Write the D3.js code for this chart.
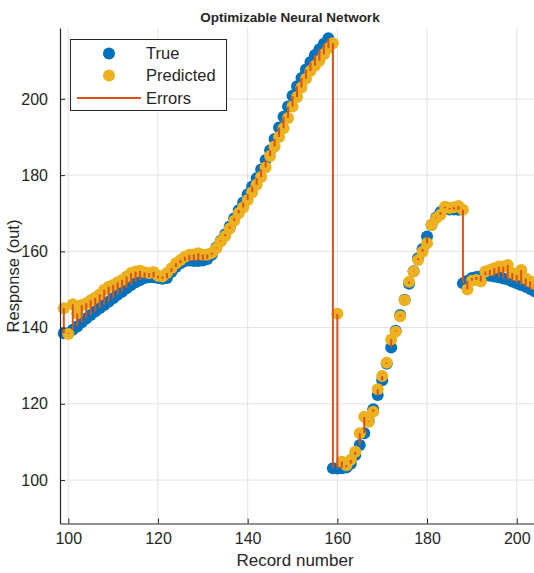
<!DOCTYPE html>
<html>
<head>
<meta charset="utf-8">
<script src="https://cdn.jsdelivr.net/npm/d3@7"></script>
<style>
  body { margin: 0; background: #fff; }
  text { font-family: "Liberation Sans", Arial, sans-serif; fill: #262626; }
</style>
</head>
<body>
<div id="chart"></div>
<script>
// record numbers on the x axis
var records = [99, 100, 101, 102, 103, 104, 105, 106, 107, 108, 109, 110, 111, 112, 113, 114, 115, 116, 117, 118, 119,
  120, 121, 122, 123, 124, 125, 126, 127, 128, 129, 130, 131, 132, 133, 134, 135, 136, 137, 138, 139,
  140, 141, 142, 143, 144, 145, 146, 147, 148, 149, 150, 151, 152, 153, 154, 155, 156, 157, 158, 159,
  160, 161, 162, 163, 164, 165, 166, 167, 168, 169, 170, 171, 172, 173, 174, 175, 176, 177, 178, 179,
  180, 181, 182, 183, 184, 185, 186, 187, 188, 189, 190, 191, 192, 193, 194, 195, 196, 197, 198, 199,
  200, 201, 202, 203, 204];

var trueVals = [138.5, 138.5, 139.4, 140.3, 141.4, 142.4, 143.3, 144.2, 145.1, 145.9, 146.8, 147.7, 148.6, 149.4, 150.3, 151.2, 151.9, 152.5, 153.0, 153.2, 153.2,
  153.0, 152.8, 153.0, 154.6, 155.9, 156.9, 157.5, 157.6, 157.5, 157.5, 157.6, 158.0, 159.1, 161.0, 162.8, 164.5, 166.5, 168.7, 170.8, 172.8,
  175.0, 177.0, 179.2, 181.5, 184.0, 186.5, 189.5, 192.5, 195.3, 198.0, 200.8, 203.3, 205.5, 207.7, 209.7, 211.5, 213.0, 214.5, 215.9, 103.1,
  103.0, 103.1, 103.3, 104.3, 106.6, 109.2, 112.3, 115.5, 118.6, 122.3, 126.2, 130.5, 134.8, 139.2, 143.3, 147.3, 151.5, 154.8, 158.2, 160.6,
  163.9, 166.9, 168.9, 170.3, 171.3, 171.0, 171.0, 170.9, 151.6, 152.3, 153.0, 153.3, 153.5, 153.7, 153.6, 153.4, 153.2, 152.9, 152.6, 152.1,
  151.6, 151.2, 150.7, 150.1, 149.5];

var predVals = [145.1, 138.3, 146.1, 143.7, 145.9, 146.4, 147.2, 147.8, 148.7, 149.9, 150.7, 151.2, 151.9, 152.5, 153.4, 154.3, 154.7, 154.9, 154.5, 154.3, 154.6,
  153.6, 153.4, 154.3, 155.6, 156.9, 157.7, 158.6, 159.1, 159.2, 159.5, 159.1, 159.2, 159.6, 160.8, 162.6, 164.0, 166.0, 168.0, 170.0, 171.5,
  173.5, 175.5, 177.5, 179.5, 182.0, 185.0, 187.5, 190.0, 192.3, 195.0, 198.0, 200.5, 203.0, 205.3, 207.3, 208.7, 210.0, 211.7, 213.3, 214.6,
  143.6, 104.8, 103.9, 105.3, 107.4, 112.3, 116.6, 115.3, 117.9, 123.8, 127.3, 130.8, 136.9, 138.9, 143.0, 147.2, 152.0, 154.7, 157.7, 159.9,
  162.1, 166.9, 168.7, 169.6, 171.7, 171.4, 171.6, 171.9, 170.9, 150.0, 152.3, 152.5, 152.1, 154.7, 155.1, 155.6, 156.0, 156.0, 156.4, 154.3,
  153.8, 155.1, 152.9, 152.1, 151.5];

var xTicks = [100, 120, 140, 160, 180, 200];
var yTicks = [100, 120, 140, 160, 180, 200];
var legendItems = ["True", "Predicted", "Errors"];

var width = 534, height = 573;
var blue = "#0072BD", yellow = "#EDB120", red = "#D95319";

var svg = d3.select("#chart").append("svg")
    .attr("width", width)
    .attr("height", height);

var x = d3.scaleLinear().domain([98.15, 203.85]).range([60, 534]);
var y = d3.scaleLinear().domain([88.6, 218.6]).range([523.5, 28]);

var data = records.map(function (r, i) {
  return { rec: r, t: trueVals[i], p: predVals[i] };
});

// grid
svg.append("g").selectAll("line").data(xTicks).enter().append("line")
    .attr("x1", function (d) { return x(d); }).attr("x2", function (d) { return x(d); })
    .attr("y1", y.range()[0]).attr("y2", y.range()[1])
    .attr("stroke", "#e3e3e3").attr("stroke-width", 1);
svg.append("g").selectAll("line").data(yTicks).enter().append("line")
    .attr("x1", 60).attr("x2", width)
    .attr("y1", function (d) { return y(d); }).attr("y2", function (d) { return y(d); })
    .attr("stroke", "#e3e3e3").attr("stroke-width", 1);

// true values
svg.append("g").selectAll("circle").data(data).enter().append("circle")
    .attr("cx", function (d) { return x(d.rec); })
    .attr("cy", function (d) { return y(d.t); })
    .attr("r", 6)
    .attr("fill", blue);

// predicted values
svg.append("g").selectAll("circle").data(data).enter().append("circle")
    .attr("cx", function (d) { return x(d.rec); })
    .attr("cy", function (d) { return y(d.p); })
    .attr("r", 6)
    .attr("fill", yellow);

// errors
svg.append("g").selectAll("line").data(data).enter().append("line")
    .attr("x1", function (d) { return x(d.rec); })
    .attr("x2", function (d) { return x(d.rec); })
    .attr("y1", function (d) { return y(d.t); })
    .attr("y2", function (d) { return y(d.p); })
    .attr("stroke", red)
    .attr("stroke-width", 2);

// axes
var xAxis = svg.append("g")
    .attr("transform", "translate(0," + y.range()[0] + ")")
    .call(d3.axisBottom(x).tickValues(xTicks).tickSizeInner(-5).tickSizeOuter(0).tickPadding(9));
var yAxis = svg.append("g")
    .attr("transform", "translate(60,0)")
    .call(d3.axisLeft(y).tickValues(yTicks).tickSizeInner(-5).tickSizeOuter(0).tickPadding(12));

[xAxis, yAxis].forEach(function (g) {
  g.select(".domain").attr("stroke", "#262626").attr("stroke-width", 1.2);
  g.selectAll(".tick line").attr("stroke", "#262626");
  g.selectAll(".tick text").attr("font-size", "16px").attr("font-family", "Liberation Sans, Arial, sans-serif").attr("fill", "#262626");
});

svg.append("text")
    .attr("x", 295).attr("y", 566)
    .attr("text-anchor", "middle")
    .attr("font-size", "17px")
    .text("Record number");

svg.append("text")
    .attr("transform", "translate(19,276) rotate(-90)")
    .attr("text-anchor", "middle")
    .attr("font-size", "16.5px")
    .text("Response (out)");

svg.append("text")
    .attr("x", 290).attr("y", 22)
    .attr("text-anchor", "middle")
    .attr("font-size", "13.5px")
    .attr("font-weight", "bold")
    .attr("fill", "#000")
    .text("Optimizable Neural Network");

// legend
var legend = svg.append("g");
legend.append("rect")
    .attr("x", 70.5).attr("y", 39.5)
    .attr("width", 156).attr("height", 71)
    .attr("fill", "#fff")
    .attr("stroke", "#262626")
    .attr("stroke-width", 1);

var rowY = [53.5, 75.5, 98];
legendItems.forEach(function (name, i) {
  if (i < 2) {
    legend.append("circle")
        .attr("cx", 109).attr("cy", rowY[i])
        .attr("r", 6)
        .attr("fill", i == 0 ? blue : yellow);
  } else {
    legend.append("line")
        .attr("x1", 77).attr("x2", 141)
        .attr("y1", rowY[i]).attr("y2", rowY[i])
        .attr("stroke", red).attr("stroke-width", 2);
  }
  legend.append("text")
      .attr("x", 146).attr("y", rowY[i])
      .attr("dy", "0.36em")
      .attr("font-size", "16.5px")
      .text(name);
});
</script>
</body>
</html>
